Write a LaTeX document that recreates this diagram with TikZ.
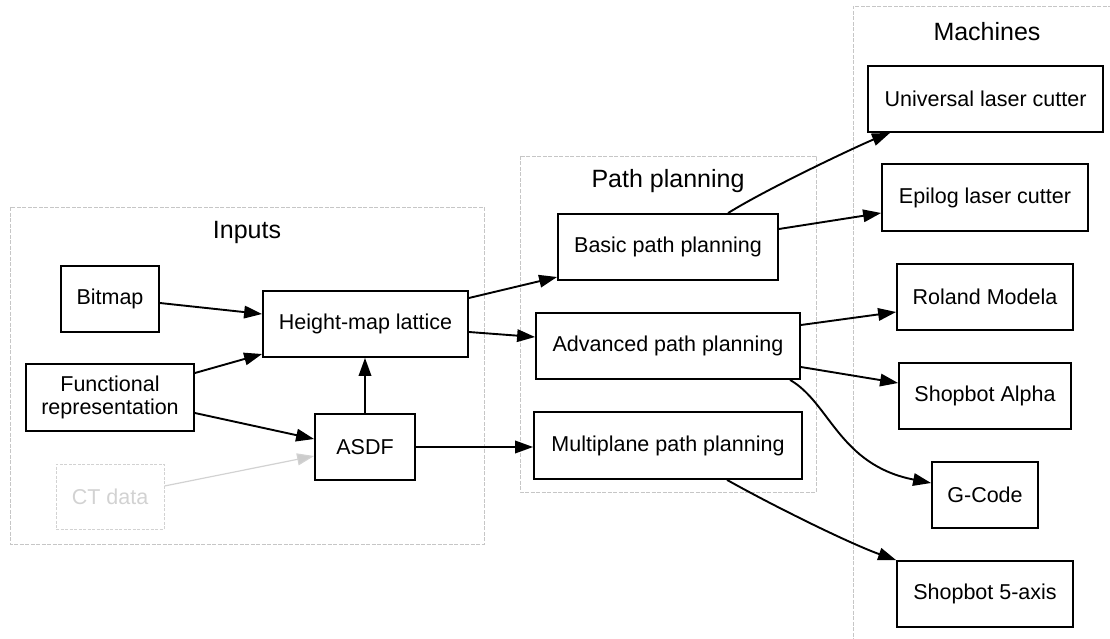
\documentclass[tikz,border=0pt]{standalone}
\usepackage{fontspec}
\setmainfont{Liberation Sans}
\usetikzlibrary{arrows.meta}
\begin{document}
\begin{tikzpicture}[x=1pt,y=-1pt,
  box/.style={draw=black, line width=1.8pt, inner sep=0pt, font=\fontsize{21.5}{24}\selectfont, align=center},
  ghost/.style={draw=gray!35, dash pattern=on 3pt off 1.5pt, line width=1pt, inner sep=0pt, text=gray!35, font=\fontsize{21.5}{24}\selectfont},
  cluster/.style={draw=gray!45, dash pattern=on 4pt off 1.5pt, line width=0.8pt},
  clabel/.style={font=\fontsize{25}{28}\selectfont, inner sep=0pt},
  edge/.style={line width=1.9pt, -{Triangle[length=18pt,width=12.5pt]}},
  gedge/.style={line width=1.2pt, draw=gray!35, -{Triangle[length=17pt,width=12pt,fill=gray!40]}}
]
\useasboundingbox (0,0) rectangle (1110,639);
% clusters
\draw[cluster] (10,207) rectangle (484,544);
\draw[cluster] (520,156) rectangle (816,492);
\draw[cluster] (1112,6) -- (853,6) -- (853,641);
\node[clabel] (lin) at (247,232) {Inputs};
\node[clabel] (lpp) at (668,181) {Path planning};
\node[clabel] (lma) at (987,32) {Machines};
% nodes
\node[box, minimum width=98pt, minimum height=66pt] (bitmap) at (110,299) {Bitmap};
\node[box, minimum width=205pt, minimum height=66pt] (hm) at (365.5,324) {Height-map lattice};
\node[box, minimum width=168pt, minimum height=67pt] (func) at (110,397.5) {Functional\\[-1pt]representation};
\node[box, minimum width=100pt, minimum height=66pt] (asdf) at (365,447) {ASDF};
\node[ghost, minimum width=108pt, minimum height=65pt] (ct) at (110,496.5) {CT data};
\node[box, minimum width=220pt, minimum height=66pt] (basic) at (668,247) {Basic path planning};
\node[box, minimum width=264pt, minimum height=66pt] (adv) at (668,346) {Advanced path planning};
\node[box, minimum width=268pt, minimum height=67pt] (multi) at (668,445.5) {Multiplane path planning};
\node[box, minimum width=235pt, minimum height=66pt] (univ) at (985.5,99) {Universal laser cutter};
\node[box, minimum width=206pt, minimum height=67pt] (epilog) at (985,197.5) {Epilog laser cutter};
\node[box, minimum width=176pt, minimum height=66pt] (roland) at (985,297) {Roland Modela};
\node[box, minimum width=172pt, minimum height=66pt] (alpha) at (985,396) {Shopbot Alpha};
\node[box, minimum width=106pt, minimum height=66pt] (gcode) at (985,495) {G-Code};
\node[box, minimum width=176pt, minimum height=66pt] (five) at (985,594) {Shopbot 5-axis};
% edges
\draw[edge] ([yshift=-4pt]bitmap.east) -- ([yshift=10pt]hm.west);
\draw[edge] ([yshift=24.5pt]func.east) -- ([yshift=-30pt]hm.west);
\draw[edge] ([yshift=-15.5pt]func.east) -- ([yshift=8pt]asdf.west);
\draw[gedge] ([yshift=10.5pt]ct.east) -- ([yshift=-9pt]asdf.west);
\draw[edge] (asdf.north) -- (asdf.north |- hm.south);
\draw[edge] ([yshift=26pt]hm.east) -- ([yshift=-30pt]basic.west);
\draw[edge] ([yshift=-8pt]hm.east) -- ([yshift=9pt]adv.west);
\draw[edge] (asdf.east) -- (asdf.east -| multi.west);
\draw[edge] ([xshift=60pt]basic.north) .. controls +(40,-25) and +(-30,12) .. ([xshift=-95.5pt]univ.south);
\draw[edge] ([yshift=18pt]basic.east) -- ([yshift=-15.5pt]epilog.west);
\draw[edge] ([yshift=21pt]adv.east) -- ([yshift=-15pt]roland.west);
\draw[edge] ([yshift=-21pt]adv.east) -- ([yshift=13pt]alpha.west);
\draw[edge] ([xshift=122pt]adv.south) .. controls +(40,23) and +(-92,-18) .. ([yshift=12pt]gcode.west);
\draw[edge] ([xshift=59pt]multi.south) .. controls +(50,28) and +(-45,-16) .. (five.north west);
\end{tikzpicture}
\end{document}
